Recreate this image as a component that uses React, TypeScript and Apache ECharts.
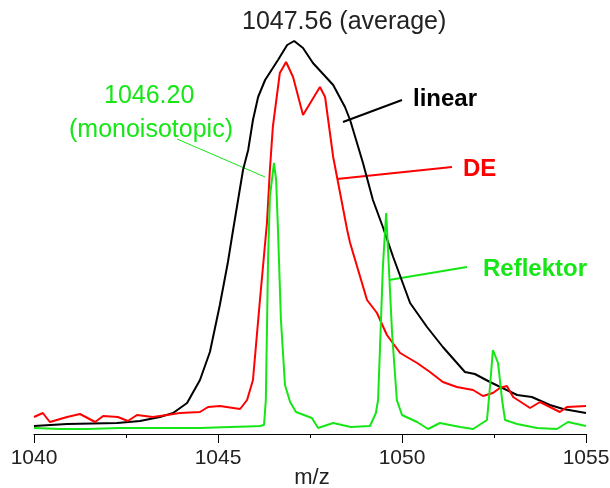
import React, { useEffect, useRef } from "react";
import * as echarts from "echarts";

// m/z values and intensities (relative, 0-100)
const linearMz = [1040.0, 1040.9, 1042.26, 1042.88, 1043.42, 1043.78, 1044.16, 1044.51, 1044.78, 1045.05, 1045.27, 1045.41, 1045.68, 1045.82, 1045.95, 1046.09, 1046.28, 1046.63, 1046.88, 1047.07, 1047.31, 1047.58, 1048.13, 1048.45, 1048.59, 1048.94, 1049.21, 1049.48, 1049.76, 1050.22, 1050.68, 1051.11, 1051.71, 1051.98, 1052.39, 1053.13, 1053.53, 1054.02, 1054.38, 1055.0];
const linearInt = [2.0, 2.5, 2.75, 3.25, 4.25, 5.25, 7.75, 13.5, 20.5, 32.25, 43, 51, 66, 71, 78.5, 84.25, 88.5, 93.5, 97.25, 98.25, 96.5, 92.75, 87.25, 81.75, 78.5, 67.75, 58.5, 51.75, 44.25, 32.75, 26.75, 21.75, 15.5, 15, 13, 9.75, 9.25, 7.25, 6.25, 5.25];

const deMz = [1040.0, 1040.24, 1040.43, 1040.9, 1041.25, 1041.66, 1041.88, 1042.28, 1042.55, 1042.8, 1043.23, 1043.61, 1043.97, 1044.51, 1044.73, 1045.05, 1045.6, 1045.79, 1045.95, 1046.14, 1046.33, 1046.41, 1046.49, 1046.68, 1046.85, 1047.04, 1047.31, 1047.77, 1047.91, 1048.13, 1048.51, 1048.59, 1049.05, 1049.32, 1049.59, 1049.95, 1050.41, 1050.76, 1051.11, 1051.49, 1051.93, 1052.2, 1052.47, 1052.66, 1052.85, 1053.02, 1053.48, 1053.75, 1054.29, 1054.48, 1055.0];
const deInt = [4.25, 5.25, 3, 4.25, 5, 3, 4.5, 4.25, 3.25, 4.75, 4.25, 4.75, 5.25, 5.5, 6.75, 7, 6.25, 8.5, 13.5, 33.5, 52.75, 66, 76.75, 90.25, 93, 89.25, 79.75, 86.75, 84.25, 69.25, 51, 47.75, 33.5, 30.25, 24.75, 20.25, 17.75, 15.5, 13, 11.75, 11, 9.5, 10.25, 11.5, 12, 9.25, 6.5, 8, 5.5, 6.75, 7];

const reflMz = [1040.0, 1040.71, 1041.44, 1042.34, 1043.42, 1044.51, 1045.33, 1046.14, 1046.25, 1046.3, 1046.36, 1046.41, 1046.52, 1046.58, 1046.63, 1046.71, 1046.82, 1046.96, 1047.12, 1047.55, 1047.72, 1048.13, 1048.61, 1049.13, 1049.29, 1049.35, 1049.4, 1049.48, 1049.57, 1049.62, 1049.73, 1049.86, 1050.0, 1050.41, 1050.71, 1051.03, 1051.58, 1051.93, 1052.31, 1052.39, 1052.47, 1052.61, 1052.72, 1052.8, 1053.13, 1053.67, 1054.21, 1054.51, 1055.0];
const reflInt = [1.5, 1.25, 1.25, 1.5, 1.5, 1.5, 1.75, 2, 2.25, 8.5, 43.5, 59.25, 67.75, 63.5, 51, 28.5, 12.25, 8, 5.5, 4, 1.5, 2.75, 1.75, 2, 5.25, 8.5, 21, 41.75, 55.25, 46, 25.25, 8.5, 4.75, 3, 1.25, 2.75, 1.75, 1.25, 3.5, 11.75, 21, 17.75, 8.5, 3.5, 2.5, 1.5, 1.25, 3, 2];

const FONT = '"Liberation Sans", Arial, sans-serif';
const GREEN = "#16e616";

function pairs(xs: number[], ys: number[]) {
  return xs.map((x, i) => [x, ys[i]]);
}

function txt(text: string, x: number, y: number, size: number, color: string, bold = false, align = "left") {
  return {
    type: "text",
    x,
    y,
    style: {
      text,
      fill: color,
      font: `${bold ? "bold " : ""}${size}px ${FONT}`,
      textAlign: align,
      textVerticalAlign: "middle",
      align: align,
      verticalAlign: "middle",
    },
  };
}

function seg(x1: number, y1: number, x2: number, y2: number, color: string, w: number) {
  return {
    type: "line",
    shape: { x1, y1, x2, y2 },
    style: { stroke: color, lineWidth: w },
  };
}

export default function App() {
  const ref = useRef<HTMLDivElement>(null);
  useEffect(() => {
    const chart = echarts.init(ref.current!, undefined, { renderer: "svg" });
    chart.setOption({
      animation: false,
      grid: { left: 34, right: 24, top: 34, bottom: 54, containLabel: false, outerBoundsMode: "none" },
      xAxis: {
        type: "value",
        min: 1040,
        max: 1055,
        interval: 5,
        axisLine: { lineStyle: { color: "#000", width: 1 } },
        axisTick: { length: 9, lineStyle: { color: "#000" } },
        minorTick: { show: true, splitNumber: 2, length: 4, lineStyle: { color: "#000" } },
        splitLine: { show: false },
        axisLabel: {
          fontSize: 21,
          color: "#222",
          margin: 12,
          fontFamily: FONT,
          formatter: (v: number) => String(v),
        },
      },
      yAxis: { type: "value", min: 0, max: 100, show: false },
      series: [
        {
          type: "line",
          data: pairs(linearMz, linearInt),
          showSymbol: false,
          lineStyle: { color: "#000", width: 2 },
          itemStyle: { color: "#000" },
        },
        {
          type: "line",
          data: pairs(deMz, deInt),
          showSymbol: false,
          lineStyle: { color: "#ff0000", width: 2 },
          itemStyle: { color: "#ff0000" },
        },
        {
          type: "line",
          data: pairs(reflMz, reflInt),
          showSymbol: false,
          lineStyle: { color: GREEN, width: 2 },
          itemStyle: { color: GREEN },
        },
      ],
      graphic: [
        seg(343, 122, 402, 100, "#000", 2),
        seg(337, 179, 452, 167, "#ff0000", 2),
        seg(389, 280, 467, 267, GREEN, 2),
        seg(177, 139, 265, 177, GREEN, 1),
        txt("1047.56 (average)", 242, 20, 25, "#222"),
        txt("1046.20", 104, 94, 25, GREEN),
        txt("(monoisotopic)", 69, 128, 25, GREEN),
        txt("linear", 413, 97, 24, "#000", true),
        txt("DE", 463, 167, 24, "#ff0000", true),
        txt("Reflektor", 483, 267, 24, GREEN, true),
        txt("m/z", 312, 476, 22, "#222", false, "center"),
      ],
    });
    return () => chart.dispose();
  }, []);
  return <div ref={ref} style={{ position: "fixed", left: 0, top: 0, width: 610, height: 488 }} />;
}
